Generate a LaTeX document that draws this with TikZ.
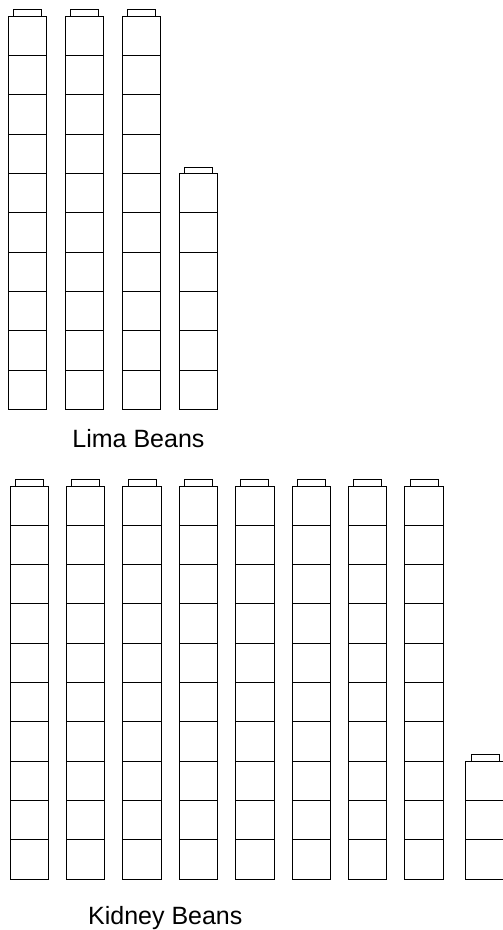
\documentclass[tikz,border=0pt]{standalone}
\usepackage{fontspec}
\setmainfont{Liberation Sans}
\usetikzlibrary{positioning}
\tikzset{
  cube/.style={
    rectangle,
    draw,
    minimum width=38.5pt,
    minimum height=39.3pt,
    inner sep=0pt,
    outer sep=0pt
  },
  cubecap/.style={
    rectangle,
    draw,
    minimum width=28pt,
    minimum height=6.4pt,
    inner sep=0pt,
    outer sep=0pt
  },
  beanlabel/.style={
    inner sep=0pt,
    font=\fontsize{25}{30}\selectfont
  }
}
\begin{document}
\begin{tikzpicture}[x=1pt, y=-1pt, line width=0.9pt]
  \useasboundingbox (0,0) rectangle (503,930);

  % lima beans: stacks of ten plus the ones
  \foreach \c/\n/\x in {1/10/8, 2/10/65, 3/10/122, 4/6/179.3} {
    \foreach \k in {1,...,\n} {
      \node[cube, anchor=south west] (lima-\c-\k) at (\x, {409.3-39.3*(\k-1)}) {};
    }
    \node[cubecap, anchor=south] (limacap-\c) at (lima-\c-\n.north) {};
  }
  \node[beanlabel, anchor=base west] (lima) at (72, 447) {Lima Beans};

  % kidney beans
  \foreach \c/\n/\x in {1/10/10, 2/10/66.4, 3/10/122.8, 4/10/179.2, 5/10/235.6,
                        6/10/292, 7/10/348.4, 8/10/404.8, 9/3/465.7} {
    \foreach \k in {1,...,\n} {
      \node[cube, anchor=south west] (kidney-\c-\k) at (\x, {879-39.3*(\k-1)}) {};
    }
    \node[cubecap, anchor=south] (kidneycap-\c) at (kidney-\c-\n.north) {};
  }
  \node[beanlabel, anchor=base west] (kidney) at (87.7, 924) {Kidney Beans};
\end{tikzpicture}
\end{document}
